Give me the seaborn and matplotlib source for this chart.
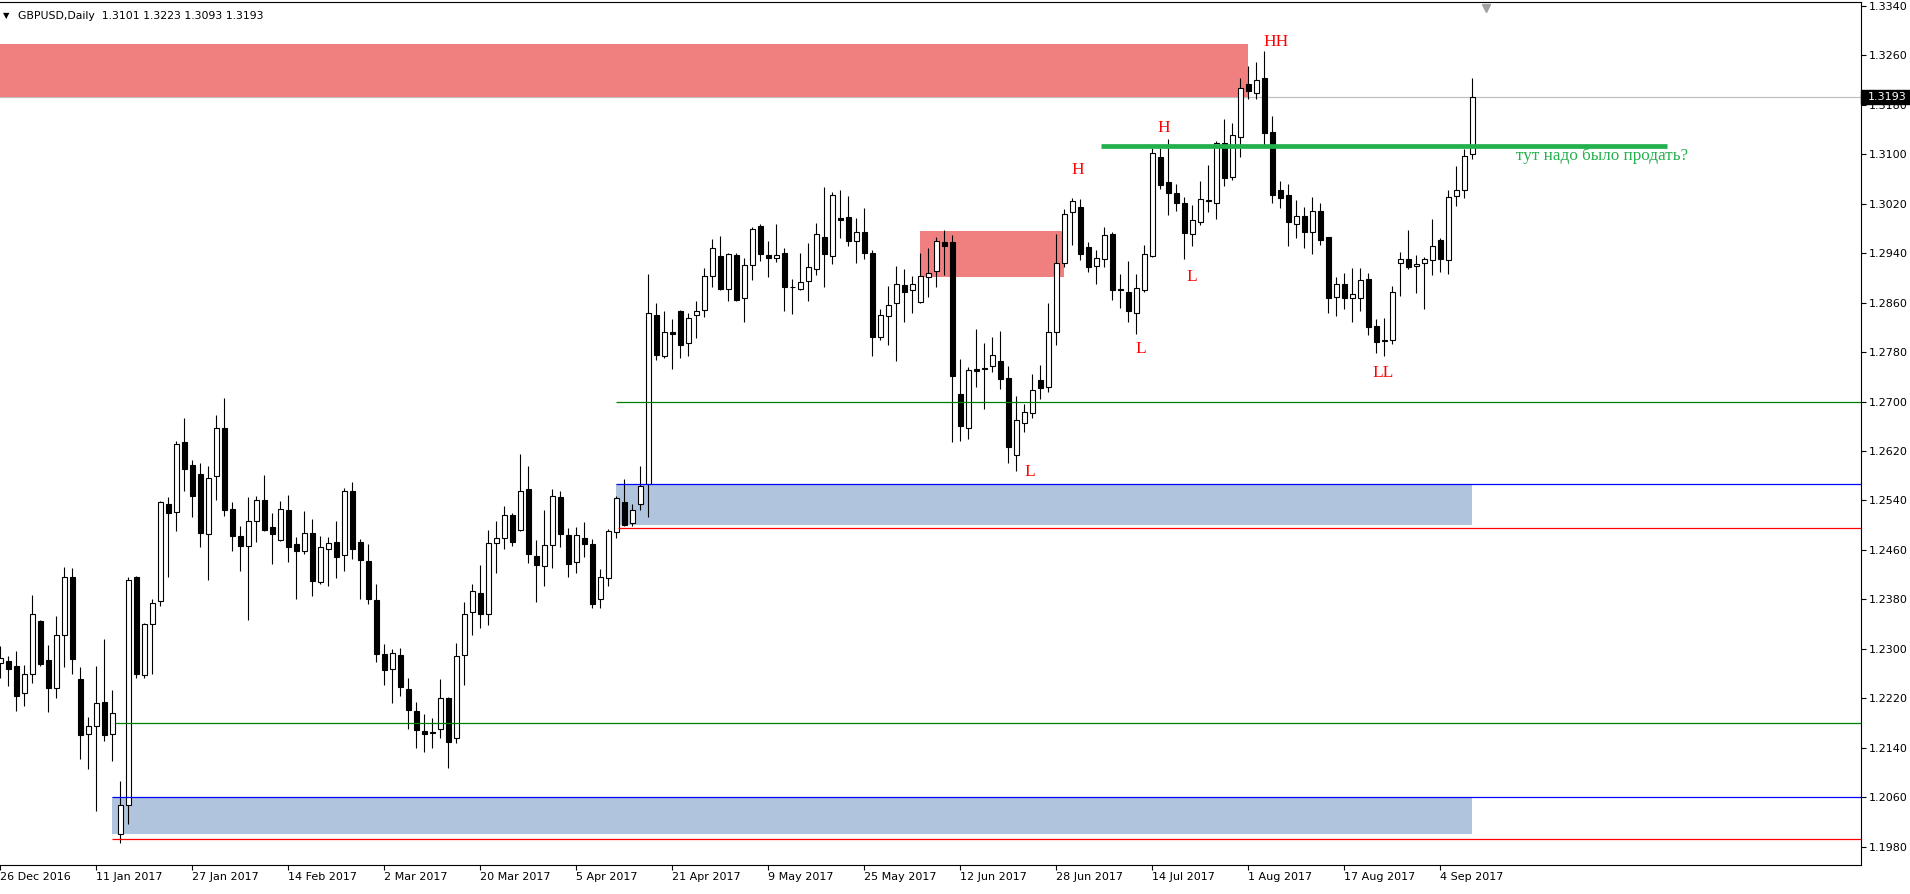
import numpy as np
import pandas as pd
import seaborn as sns
import matplotlib
matplotlib.use('Agg')
import matplotlib.pyplot as plt
import matplotlib.transforms as mtrans
from matplotlib.patches import Rectangle

# GBPUSD daily candles, 26 Dec 2016 .. 8 Sep 2017
opens = [1.2277, 1.2280, 1.2272, 1.2228, 1.2260, 1.2345, 1.2282, 1.2236, 1.2323, 1.2417,
         1.2251, 1.2162, 1.2175, 1.2214, 1.2162, 1.2000, 1.2048, 1.2416, 1.2258, 1.2340,
         1.2378, 1.2534, 1.2521, 1.2635, 1.2597, 1.2583, 1.2485, 1.2579, 1.2657, 1.2526,
         1.2483, 1.2467, 1.2506, 1.2541, 1.2497, 1.2476, 1.2525, 1.2470, 1.2459, 1.2487,
         1.2408, 1.2461, 1.2473, 1.2451, 1.2555, 1.2473, 1.2442, 1.2379, 1.2292, 1.2268,
         1.2290, 1.2235, 1.2199, 1.2167, 1.2164, 1.2170, 1.2220, 1.2155, 1.2290, 1.2359,
         1.2391, 1.2357, 1.2472, 1.2479, 1.2516, 1.2492, 1.2558, 1.2450, 1.2434, 1.2468,
         1.2546, 1.2484, 1.2440, 1.2480, 1.2470, 1.2380, 1.2414, 1.2489, 1.2537, 1.2503,
         1.2534, 1.2566, 1.2840, 1.2774, 1.2813, 1.2847, 1.2794, 1.2840, 1.2848, 1.2903,
         1.2935, 1.2882, 1.2937, 1.2867, 1.2921, 1.2984, 1.2937, 1.2932, 1.2940, 1.2885,
         1.2882, 1.2895, 1.2914, 1.2967, 1.2936, 1.2997, 1.2998, 1.2959, 1.2974, 1.2940,
         1.2804, 1.2838, 1.2859, 1.2888, 1.2880, 1.2861, 1.2901, 1.2911, 1.2958, 1.2958,
         1.2712, 1.2658, 1.2752, 1.2754, 1.2757, 1.2766, 1.2738, 1.2613, 1.2665, 1.2681,
         1.2735, 1.2723, 1.2812, 1.2925, 1.3006, 1.3015, 1.2950, 1.2920, 1.2931, 1.2971,
         1.2882, 1.2877, 1.2844, 1.2881, 1.2936, 1.3096, 1.3055, 1.3037, 1.3021, 1.2971,
         1.2991, 1.3026, 1.3022, 1.3119, 1.3064, 1.3128, 1.3214, 1.3199, 1.3223, 1.3136,
         1.3043, 1.3034, 1.2988, 1.3001, 1.2975, 1.3009, 1.2966, 1.2869, 1.2890, 1.2867,
         1.2867, 1.2898, 1.2822, 1.2798, 1.2799, 1.2925, 1.2930, 1.2919, 1.2924, 1.2929,
         1.2961, 1.2929, 1.3032, 1.3042, 1.3101]
highs = [1.2304, 1.2288, 1.2297, 1.2274, 1.2387, 1.2347, 1.2306, 1.2353, 1.2432, 1.2431,
         1.2271, 1.2190, 1.2273, 1.2316, 1.2233, 1.2086, 1.2416, 1.2418, 1.2342, 1.2381,
         1.2539, 1.2546, 1.2637, 1.2673, 1.2606, 1.2600, 1.2596, 1.2678, 1.2705, 1.2538,
         1.2499, 1.2546, 1.2548, 1.2581, 1.2520, 1.2539, 1.2549, 1.2481, 1.2523, 1.2510,
         1.2483, 1.2481, 1.2507, 1.2560, 1.2570, 1.2477, 1.2470, 1.2405, 1.2308, 1.2300,
         1.2301, 1.2252, 1.2214, 1.2195, 1.2188, 1.2251, 1.2222, 1.2309, 1.2376, 1.2405,
         1.2436, 1.2493, 1.2506, 1.2531, 1.2519, 1.2615, 1.2596, 1.2476, 1.2525, 1.2559,
         1.2555, 1.2496, 1.2497, 1.2505, 1.2478, 1.2429, 1.2494, 1.2547, 1.2575, 1.2534,
         1.2596, 1.2906, 1.2860, 1.2847, 1.2834, 1.2848, 1.2844, 1.2863, 1.2916, 1.2963,
         1.2968, 1.2940, 1.2940, 1.2932, 1.2983, 1.2987, 1.2960, 1.2987, 1.2948, 1.2898,
         1.2940, 1.2957, 1.2989, 1.3047, 1.3039, 1.3042, 1.3033, 1.2997, 1.3013, 1.2946,
         1.2849, 1.2887, 1.2919, 1.2915, 1.2903, 1.2940, 1.2949, 1.2966, 1.2977, 1.2970,
         1.2769, 1.2756, 1.2818, 1.2795, 1.2805, 1.2814, 1.2757, 1.2709, 1.2696, 1.2745,
         1.2759, 1.2860, 1.2971, 1.3012, 1.3030, 1.3028, 1.2958, 1.2945, 1.2983, 1.2974,
         1.2906, 1.2928, 1.2906, 1.2953, 1.3110, 1.3110, 1.3125, 1.3052, 1.3031, 1.3018,
         1.3057, 1.3083, 1.3122, 1.3157, 1.3151, 1.3223, 1.3243, 1.3249, 1.3267, 1.3162,
         1.3057, 1.3052, 1.3026, 1.3015, 1.3031, 1.3021, 1.2967, 1.2902, 1.2908, 1.2916,
         1.2916, 1.2908, 1.2834, 1.2835, 1.2887, 1.2942, 1.2978, 1.2937, 1.2934, 1.2995,
         1.2965, 1.3042, 1.3081, 1.3109, 1.3223]
lows = [1.2253, 1.2240, 1.2200, 1.2208, 1.2245, 1.2273, 1.2198, 1.2221, 1.2270, 1.2260,
        1.2122, 1.2106, 1.2037, 1.2151, 1.2119, 1.1986, 1.2016, 1.2253, 1.2252, 1.2260,
        1.2370, 1.2417, 1.2490, 1.2556, 1.2514, 1.2464, 1.2412, 1.2541, 1.2515, 1.2459,
        1.2426, 1.2346, 1.2473, 1.2490, 1.2438, 1.2474, 1.2441, 1.2381, 1.2454, 1.2386,
        1.2405, 1.2401, 1.2415, 1.2426, 1.2446, 1.2381, 1.2373, 1.2279, 1.2242, 1.2213,
        1.2223, 1.2170, 1.2139, 1.2133, 1.2139, 1.2156, 1.2108, 1.2147, 1.2241, 1.2323,
        1.2334, 1.2339, 1.2422, 1.2462, 1.2467, 1.2490, 1.2439, 1.2375, 1.2402, 1.2431,
        1.2464, 1.2417, 1.2422, 1.2449, 1.2366, 1.2366, 1.2402, 1.2479, 1.2498, 1.2498,
        1.2524, 1.2514, 1.2768, 1.2771, 1.2753, 1.2770, 1.2773, 1.2803, 1.2837, 1.2886,
        1.2881, 1.2863, 1.2863, 1.2829, 1.2897, 1.2928, 1.2901, 1.2926, 1.2847, 1.2842,
        1.2880, 1.2863, 1.2904, 1.2886, 1.2923, 1.2964, 1.2951, 1.2925, 1.2930, 1.2774,
        1.2799, 1.2792, 1.2766, 1.2828, 1.2844, 1.2859, 1.2870, 1.2886, 1.2905, 1.2634,
        1.2637, 1.2640, 1.2723, 1.2688, 1.2748, 1.2720, 1.2601, 1.2587, 1.2651, 1.2674,
        1.2704, 1.2715, 1.2792, 1.2917, 1.2953, 1.2929, 1.2910, 1.2890, 1.2918, 1.2865,
        1.2852, 1.2829, 1.2810, 1.2878, 1.2934, 1.3044, 1.3002, 1.3008, 1.2931, 1.2952,
        1.2986, 1.3006, 1.2996, 1.3048, 1.3059, 1.3095, 1.3189, 1.3189, 1.3115, 1.3022,
        1.3013, 1.2951, 1.2965, 1.2949, 1.2938, 1.2954, 1.2844, 1.2839, 1.2850, 1.2829,
        1.2847, 1.2808, 1.2778, 1.2773, 1.2793, 1.2871, 1.2914, 1.2876, 1.2850, 1.2904,
        1.2910, 1.2907, 1.3017, 1.3030, 1.3093]
closes = [1.2285, 1.2268, 1.2224, 1.2260, 1.2357, 1.2276, 1.2237, 1.2322, 1.2416, 1.2284,
          1.2161, 1.2175, 1.2212, 1.2161, 1.2196, 1.2047, 1.2412, 1.2260, 1.2340, 1.2374,
          1.2537, 1.2519, 1.2632, 1.2591, 1.2548, 1.2488, 1.2577, 1.2658, 1.2524, 1.2483,
          1.2467, 1.2506, 1.2540, 1.2493, 1.2485, 1.2526, 1.2465, 1.2459, 1.2488, 1.2409,
          1.2464, 1.2472, 1.2449, 1.2556, 1.2462, 1.2443, 1.2381, 1.2292, 1.2266, 1.2294,
          1.2238, 1.2201, 1.2168, 1.2162, 1.2166, 1.2220, 1.2150, 1.2288, 1.2357, 1.2394,
          1.2357, 1.2471, 1.2480, 1.2516, 1.2473, 1.2556, 1.2453, 1.2435, 1.2468, 1.2548,
          1.2485, 1.2438, 1.2484, 1.2469, 1.2373, 1.2416, 1.2490, 1.2544, 1.2501, 1.2524,
          1.2563, 1.2843, 1.2776, 1.2812, 1.2809, 1.2792, 1.2835, 1.2846, 1.2903, 1.2948,
          1.2882, 1.2938, 1.2864, 1.2921, 1.2980, 1.2939, 1.2933, 1.2937, 1.2886, 1.2886,
          1.2893, 1.2917, 1.2971, 1.2939, 1.3035, 1.2994, 1.2960, 1.2974, 1.2941, 1.2805,
          1.2840, 1.2857, 1.2890, 1.2878, 1.2890, 1.2903, 1.2908, 1.2959, 1.2951, 1.2742,
          1.2660, 1.2751, 1.2750, 1.2752, 1.2775, 1.2736, 1.2626, 1.2671, 1.2683, 1.2718,
          1.2722, 1.2812, 1.2924, 1.3004, 1.3025, 1.2939, 1.2918, 1.2932, 1.2969, 1.2881,
          1.2880, 1.2846, 1.2883, 1.2938, 1.3102, 1.3051, 1.3038, 1.3022, 1.2972, 1.2993,
          1.3027, 1.3024, 1.3118, 1.3062, 1.3131, 1.3208, 1.3203, 1.3221, 1.3135, 1.3035,
          1.3030, 1.2991, 1.3001, 1.2975, 1.3008, 1.2962, 1.2867, 1.2890, 1.2867, 1.2874,
          1.2896, 1.2821, 1.2797, 1.2799, 1.2877, 1.2931, 1.2917, 1.2923, 1.2931, 1.2951,
          1.2931, 1.3031, 1.3042, 1.3098, 1.3193]

date_labels = ['26 Dec 2016', '11 Jan 2017', '27 Jan 2017', '14 Feb 2017', '2 Mar 2017',
               '20 Mar 2017', '5 Apr 2017', '21 Apr 2017', '9 May 2017', '25 May 2017',
               '12 Jun 2017', '28 Jun 2017', '14 Jul 2017', '1 Aug 2017', '17 Aug 2017',
               '4 Sep 2017']
price_ticks = [1.1980, 1.2060, 1.2140, 1.2220, 1.2300, 1.2380, 1.2460, 1.2540, 1.2620,
               1.2700, 1.2780, 1.2860, 1.2940, 1.3020, 1.3100, 1.3180, 1.3260, 1.3340]

# zones: (start bar, end bar, low price, high price)
sell_zones = [(-2, 156, 1.3193, 1.3279), (115, 133, 1.2902, 1.2976)]
buy_zones = [(77, 184, 1.2500, 1.2566), (14, 184, 1.2000, 1.2060)]
blue_lines = [(77, 1.2566), (14, 1.2060)]
red_lines = [(77.2, 1.2495), (14, 1.1993)]
green_lines = [(77, 1.2700), (14.3, 1.2180)]
swing_labels = [('H', 134.75, 1.3074), ('H', 145.5, 1.3143), ('HH', 159.5, 1.3282),
                ('L', 128.75, 1.2586), ('L', 142.6, 1.2785), ('L', 149.0, 1.2902),
                ('LL', 172.9, 1.2746)]
last_price = 1.3193
sell_level = 1.3113

df = pd.DataFrame({'date': pd.bdate_range('2016-12-26', periods=len(opens)),
                   'open': opens, 'high': highs, 'low': lows, 'close': closes})
df['bar'] = np.arange(len(df))

sns.set_theme(style='white')
plt.rcParams['font.family'] = ['DejaVu Sans']
plt.rcParams['axes.edgecolor'] = 'black'
plt.rcParams['text.color'] = 'black'
plt.rcParams['xtick.color'] = 'black'
plt.rcParams['ytick.color'] = 'black'

fig = plt.figure(figsize=(19.1, 8.94), dpi=100)
ax = fig.add_axes([0, 0.0319, 0.9743, 0.9659])
ax.set_xlim(-0.04, 232.6)
ax.set_ylim(1.19495, 1.33465)

for x0, x1, lo, hi in sell_zones:
    ax.add_patch(Rectangle((x0, lo), x1 - x0, hi - lo, color='#F08080', lw=0, zorder=1))
for x0, x1, lo, hi in buy_zones:
    ax.add_patch(Rectangle((x0, lo), x1 - x0, hi - lo, color='#B0C4DE', lw=0, zorder=1))
ax.axhline(last_price, color='#C0C0C0', lw=0.9, zorder=0.5)

# candles
ax.vlines(df.bar, df.low, df.high, color='black', lw=0.8, zorder=3)
body_bottom = df[['open', 'close']].min(axis=1)
body_height = (df.close - df.open).abs()
body_color = np.where(df.close >= df.open, 'white', 'black')
ax.bar(df.bar, body_height, bottom=body_bottom, width=0.62, color=body_color,
       edgecolor='black', linewidth=0.8, zorder=4)

for x0, y in blue_lines:
    ax.hlines(y, x0, 260, color='#0000FF', lw=0.9, zorder=5)
for x0, y in red_lines:
    ax.hlines(y, x0, 260, color='#FF0000', lw=0.9, zorder=5)
for x0, y in green_lines:
    ax.hlines(y, x0, 260, color='#008000', lw=0.9, zorder=5)
ax.hlines(sell_level, 137.6, 208.3, color='#22B14C', lw=3.4, zorder=5)

for txt, x, y in swing_labels:
    ax.text(x, y, txt, color='#FF0000', fontsize=12.5, family=['Liberation Serif'],
            ha='center', va='center', zorder=6)
ax.text(189.5, 1.3097, 'тут надо было продать?', color='#22B14C', fontsize=12.3,
        family=['Liberation Serif'], ha='left', va='center', zorder=6)

# axes styling like the terminal
sns.despine(ax=ax, left=True, right=False, top=False, bottom=False)
for s in ax.spines.values():
    s.set_linewidth(0.8)
ax.yaxis.tick_right()
ax.set_yticks(price_ticks)
ax.set_yticklabels([f'{p:.4f}' for p in price_ticks])
ax.set_xticks(df.bar[::12])
ax.set_xticklabels(date_labels, ha='left')
ax.tick_params(axis='y', which='both', right=True, left=False, labelright=True, labelleft=False,
               direction='out', length=3.6, width=0.8, pad=1.8, labelsize=8)
ax.tick_params(axis='x', bottom=True, direction='out', length=3.6, width=0.8, pad=1.0,
               labelsize=8)
ax.grid(False)

# current price tag on the price scale
tag = mtrans.blended_transform_factory(ax.transAxes, ax.transData)
ax.add_patch(Rectangle((1.0003, last_price - 0.00115), 0.0265, 0.0023, transform=tag,
                       color='black', clip_on=False, zorder=10))
ax.text(1.0038, last_price, f'{last_price:.4f}', transform=tag, color='white', fontsize=8,
        ha='left', va='center', zorder=11, clip_on=False)

# chart header and shift marker
ax.text(3 / 1861, 1 - 14 / 864, '▼', transform=ax.transAxes, fontsize=6, ha='left', va='center')
ax.text(18 / 1861, 1 - 14 / 864, 'GBPUSD,Daily  1.3101 1.3223 1.3093 1.3193',
        transform=ax.transAxes, fontsize=7.8, ha='left', va='center')
ax.plot([185.7], [1.3337], marker='v', color='#A0A0A0', ms=6, zorder=7, clip_on=False)

fig.savefig('out.png', dpi=100)
